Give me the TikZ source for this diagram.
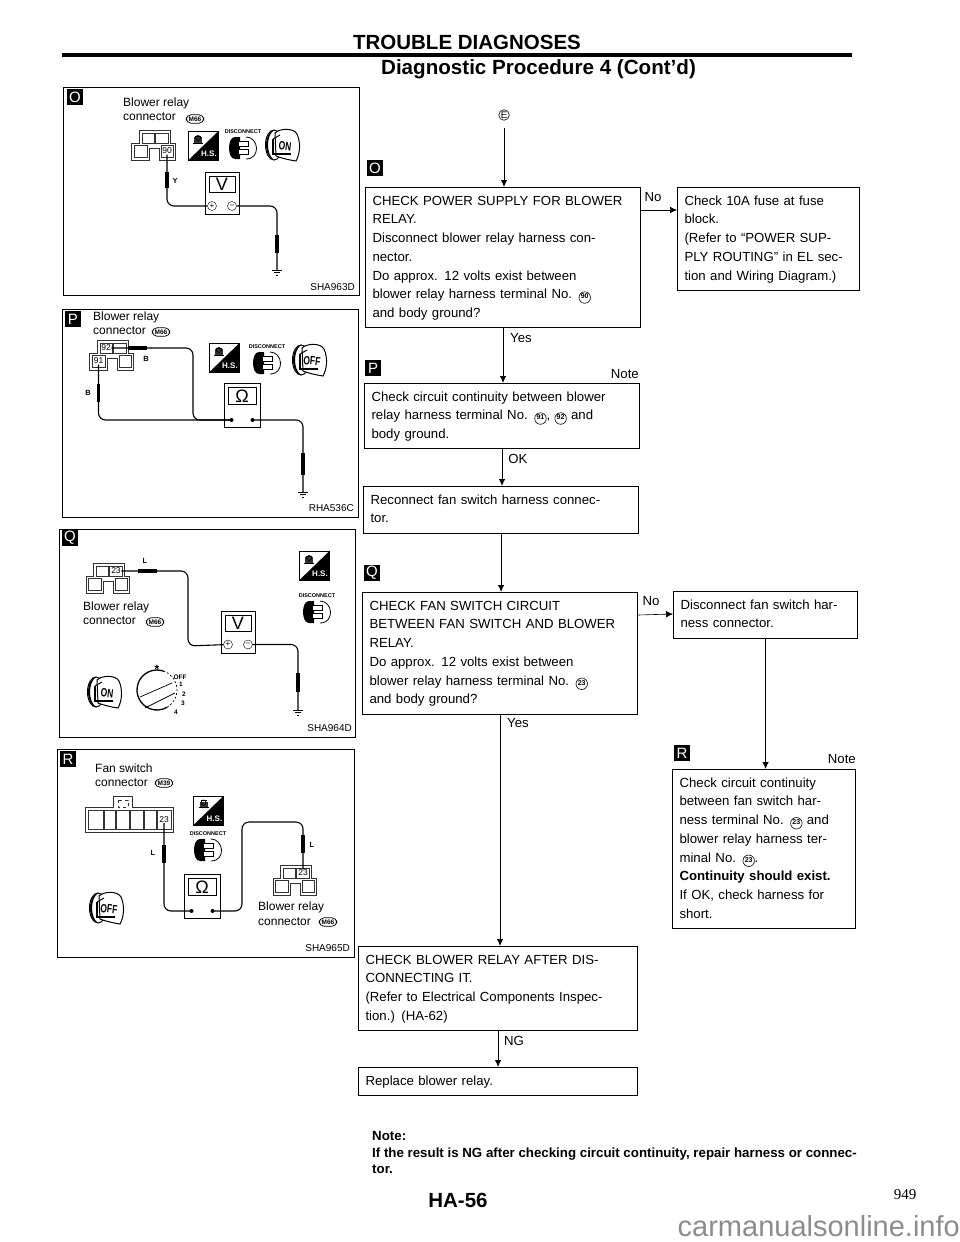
\documentclass[tikz,border=0pt]{standalone}
\usepackage{fontspec}
\usepackage{amssymb}
\usepackage{amsmath}
\setmainfont{Liberation Sans}
\newfontfamily\pagefont{Liberation Serif}
\usetikzlibrary{arrows.meta}

% Circled terminal number inside the text
\newcommand{\termno}[1]{\tikz[baseline=(cn.base)]\node[circle, draw, line width=.6pt, inner sep=0pt,
    inner xsep=0pt, inner ysep=0pt, minimum size=11.5pt, anchor=center, text width=,
    execute at begin node=, execute at end node=, font=\fontsize{7}{7}\selectfont\bfseries] (cn) {#1};}

\tikzset{
    chkbox/.style={draw, line width=1.1pt, anchor=north west, inner xsep=7pt, inner ysep=4.5pt,
        align=left, font=\fontsize{13.2}{18.75}\selectfont, execute at begin node=\strut,
        execute at end node=\strut},
    flowtext/.style={font=\fontsize{13.2}{16}\selectfont, inner sep=0pt},
    panelbox/.style={draw, line width=1pt, anchor=north west},
    badge/.style={fill=black, text=white, minimum size=16pt, inner sep=0pt, font=\fontsize{15}{15}\selectfont},
    paneltext/.style={anchor=west, inner sep=0pt, font=\fontsize{12}{12}\selectfont},
    pillbox/.style={draw, rounded corners=5pt, line width=.7pt, inner xsep=2.5pt, inner ysep=2pt,
        font=\fontsize{6.5}{6.5}\selectfont\bfseries},
    codetext/.style={anchor=east, inner sep=0pt, font=\fontsize{10}{10}\selectfont},
    termbox/.style={inner sep=.5pt, font=\fontsize{8.5}{8.5}\selectfont},
    wirecol/.style={inner sep=0pt, font=\fontsize{7.5}{7.5}\selectfont\bfseries},
    wire/.style={line width=1.1pt, rounded corners=7pt},
    sleeve/.style={line width=3.4pt},
    pics/earth/.style={code={
        \coordinate (top) at (0,0);
        \draw[line width=.8pt] (-5,0) -- (5,0);
        \draw[line width=.8pt] (-3,2.5) -- (3,2.5);
        \draw[line width=.8pt] (-1.2,5) -- (1.2,5);
    }},
    pics/voltbox/.style={code={
        \draw[line width=1pt] (-17,-21) rectangle (17,21);
        \draw[line width=1pt] (-13,-17) rectangle (13,-1);
        \node[inner sep=0pt, font=\fontsize{18}{18}\selectfont] (sign) at (0,-9) {V};
        \node[draw, circle, inner sep=0pt, minimum size=9pt, font=\fontsize{8}{8}\selectfont] (pos) at (-10,12.5) {+};
        \node[draw, circle, inner sep=0pt, minimum size=9pt, font=\fontsize{8}{8}\selectfont] (neg) at (10,12.5) {--};
    }},
    pics/ohmbox/.style={code={
        \draw[line width=1pt] (-18,-22) rectangle (18,22);
        \draw[line width=1pt] (-14,-18) rectangle (14,-1);
        \node[inner sep=0pt, font=\fontsize{18}{18}\selectfont] (sign) at (0,-9) {Ω};
        \fill (-10.5,15) circle (2pt) coordinate (pos);
        \fill (10.5,15) circle (2pt) coordinate (neg);
    }},
    pics/hsicon/.style={code={
        \draw[line width=.8pt] (-15,-14.5) rectangle (15,14.5);
        \fill (-15,14.5) -- (15,-14.5) -- (15,14.5) -- cycle;
        \node[inner sep=0pt, text=white, font=\fontsize{8}{8}\selectfont\bfseries] (hs) at (6,8) {H.S.};
        \fill[black!80] (-9,-9) rectangle (-1,-3);
        \draw[line width=.7pt] (-5,-8) circle (2.5pt);
        \draw[line width=.7pt] (-10,-3) -- (0,-3) (-8,-10) -- (-2,-10);
    }},
    pics/discon/.style={code={
        \node[inner sep=0pt, font=\fontsize{5.5}{5.5}\selectfont\bfseries] (lab) at (0,-16) {DISCONNECT};
        \fill (-3,-11) -- (-8,-11) .. controls (-16,-11) and (-16,11) .. (-8,11) -- (-3,11) -- cycle;
        \draw[line width=.8pt] (3,-11) .. controls (16,-11) and (18,11) .. (3,11);
        \foreach \y in {-4,4}
            \draw[line width=.8pt, fill=white] (-5,\y-2.5) rectangle (5,\y+2.5);
    }},
    pics/keysw/.style={code={
        \draw[line width=1pt, fill=white] (-9,0) ellipse (8.5pt and 15pt);
        \fill (-17,0) .. controls (-17,-9) and (-12,-15) .. (-9,-15)
            .. controls (-13,-12) and (-15,-6) .. (-15,0)
            .. controls (-15,6) and (-13,12) .. (-9,15)
            .. controls (-12,15) and (-17,9) .. (-17,0);
        \draw[line width=1pt, fill=white] (-8,-12) .. controls (-3,-17) and (11,-17) .. (14,-11)
            .. controls (18,-2) and (17,9) .. (13,16)
            .. controls (6,15) and (-2,13) .. (-7,11) -- cycle;
        \draw[line width=1pt] (-10,-6) -- (-3,-10);
        \draw[line width=1.2pt] (-10,-6) -- (-10,9) -- (8,9);
        \node[inner sep=0pt, rotate=-6, xscale=.7, font=\fontsize{12}{12}\selectfont\bfseries] (sw) at (2,1) {#1};
    }},
    pics/relayconn/.style={code={
        \draw[line width=.8pt, black!80] (-14,-15) -- (17,-15) -- (17,-2) -- (22,-2) -- (22,15) -- (6,15)
            -- (6,3) -- (-4,3) -- (-4,15) -- (-21.5,15) -- (-21.5,-2) -- (-14,-2) -- cycle;
        \draw[line width=.6pt, black!80] (-11,-12) rectangle (1,-2);
        \draw[line width=.6pt, black!80] (2,-12) rectangle (15,-2);
        \draw[line width=.6pt, black!80] (-19,0) rectangle (-6,12);
        \draw[line width=.6pt, black!80] (8,0) rectangle (20,12);
    }}
}

\begin{document}
\begin{tikzpicture}[x=1pt, y=-1pt, >={Latex[length=7pt,width=6.5pt]}]
\useasboundingbox (0,0) rectangle (960,1242);

% Page heading
\node[inner sep=0pt, font=\fontsize{20.5}{20.5}\selectfont\bfseries] (headA) at (467,42)
    {TROUBLE DIAGNOSES};
\node[inner sep=0pt, font=\fontsize{20.6}{20.6}\selectfont\bfseries] (headB) at (538.5,69)
    {Diagnostic Procedure 4 (Cont'd)};
\fill (62,53) rectangle (852,57);

% Panels on the left
\node[panelbox, minimum width=296pt, minimum height=208pt] (panelO) at (62.5,87) {};
\node[panelbox, minimum width=296pt, minimum height=208pt] (panelP) at (62,309) {};
\node[panelbox, minimum width=296pt, minimum height=208pt] (panelQ) at (59,529) {};
\node[panelbox, minimum width=297pt, minimum height=208pt] (panelR) at (57,749) {};

\foreach \tag/\x/\y in {O/75/97, P/73/319, Q/70/538, R/68/759}
    \node[badge] (side\tag) at (\x,\y) {\tag};

\foreach \tag/\x/\y/\txt in {O/355/287/SHA963D, P/354/508/RHA536C, Q/352/728/SHA964D, R/350/948/SHA965D}
    \node[codetext] (code\tag) at (\x,\y) {\txt};

% Panel O
\node[paneltext] (txtOa) at (123,103) {Blower relay};
\node[paneltext] (txtOb) at (123,117) {connector};
\node[pillbox] (pillO) at (195,119) {M66};
\pic at (153,145) {relayconn};
\node[termbox] (t90) at (167,151) {90};
\pic at (203,146) {hsicon};
\pic at (243,148) {discon};
\pic at (283,145) {keysw=ON};
\pic (mO) at (222,193.5) {voltbox};
\pic (gndO) at (277,270) {earth};
\node[wirecol] (wireY) at (175,181) {Y};
\draw[wire] (t90) |- (mOpos);
\draw[wire] (mOneg) -| (gndOtop);
\draw[sleeve] (167,172) -- (167,188);
\draw[sleeve] (277,235) -- (277,253);

% Panel P
\node[paneltext] (txtPa) at (93,317) {Blower relay};
\node[paneltext] (txtPb) at (93,331) {connector};
\node[pillbox] (pillP) at (161,332) {M66};
\pic at (111,355) {relayconn};
\node[termbox] (t92) at (106,348) {92};
\node[termbox] (t91) at (98.5,361) {91};
\pic at (224,358) {hsicon};
\pic at (267,363) {discon};
\pic at (310,360) {keysw=OFF};
\pic (mP) at (242,405) {ohmbox};
\pic (gndP) at (303,492) {earth};
\coordinate (bendP) at (193,420);
\node[wirecol] (wireBa) at (146,359) {B};
\node[wirecol] (wireBb) at (88,393) {B};
\draw[wire] (t92.east) -| (bendP) -- (mPpos);
\draw[wire] (t91) |- (mPpos);
\draw[wire] (mPneg) -| (gndPtop);
\draw[sleeve] (128,348) -- (147,348);
\draw[sleeve] (98.5,384) -- (98.5,402);
\draw[sleeve] (303,453) -- (303,475);

% Panel Q
\pic at (107.5,578) {relayconn};
\node[termbox] (t23q) at (116,571) {23};
\node[paneltext] (txtQa) at (83,607) {Blower relay};
\node[paneltext] (txtQb) at (83,621) {connector};
\node[pillbox] (pillQ) at (155,622) {M66};
\pic at (314,566) {hsicon};
\pic at (317,612) {discon};
\pic at (105,692) {keysw=ON};
\pic (mQ) at (238,632) {voltbox};
\pic (gndQ) at (298,710) {earth};
\coordinate (bendQ) at (188,646);
\node[wirecol] (wireLq) at (145,561) {L};
\draw[wire] (t23q.east) -| (bendQ) -- (mQpos);
\draw[wire] (mQneg) -| (gndQtop);
\draw[sleeve] (138,571) -- (157,571);
\draw[sleeve] (298,673) -- (298,692);

% Fan dial in panel Q
\draw[line width=1.3pt] (157,690) ++(70:20pt) arc[start angle=70, end angle=300, radius=20pt];
\draw[line width=.7pt, dash pattern=on 2pt off 2pt] (157,690) ++(-60:20pt) arc[start angle=-60, end angle=70, radius=20pt];
\draw[line width=.7pt] (140,697) -- (172,683);
\draw[line width=.7pt] (145,708) -- (175,693);
\foreach \txt/\x/\y in {OFF/180/677, 1/181/684, 2/184/694, 3/183/703, 4/176/712}
    \node[inner sep=0pt, font=\fontsize{6.5}{6.5}\selectfont\bfseries] (dial\txt) at (\x,\y) {\txt};
\node[inner sep=0pt, font=\fontsize{12}{12}\selectfont\bfseries] (dialmark) at (157,669) {*};

% Panel R
\node[paneltext] (txtRa) at (95,768) {Fan switch};
\node[paneltext] (txtRb) at (95,783) {connector};
\node[pillbox] (pillR) at (164,783) {M39};
\draw[line width=.8pt, black!80] (85,807) -- (113,807) -- (113,796) -- (132,796) -- (132,807) -- (173,807)
    -- (173,832) -- (85,832) -- cycle;
\foreach \x/\w in {88/15, 104/11, 116/13, 130/13, 144/12, 157/14}
    \draw[line width=.6pt, black!80] (\x,810) rectangle (\x+\w,829);
\draw[line width=.6pt, black!80, dashed] (118,800) rectangle (128,807);
\node[termbox] (t23f) at (164,819.5) {23};
\pic at (208.5,810.5) {hsicon};
\pic at (208,850) {discon};
\pic at (107,908) {keysw=OFF};
\pic (mR) at (202,896) {ohmbox};
\coordinate (bendR) at (242,822);
\pic at (294.5,880) {relayconn};
\node[termbox] (t23r) at (303,873) {23};
\node[wirecol] (wireLa) at (153,853) {L};
\node[wirecol] (wireLb) at (312,845) {L};
\node[paneltext] (txtRc) at (258,907) {Blower relay};
\node[paneltext] (txtRd) at (258,922) {connector};
\node[pillbox] (pillRb) at (328,922) {M66};
\draw[wire] (t23f) |- (mRpos);
\draw[wire] (mRneg) -| (bendR) -| (t23r);
\draw[sleeve] (164,845) -- (164,863);
\draw[sleeve] (303,835) -- (303,853);

% Flow chart boxes
\node[chkbox, text width=261pt] (chkpower) at (365,187)
    {CHECK POWER SUPPLY FOR BLOWER\\ RELAY.\\ Disconnect blower relay harness con-\\ nector.\\
     Do approx. 12 volts exist between\\ blower relay harness terminal No. \termno{90}\\ and body ground?};
\node[chkbox, text width=168pt] (chkfuse) at (677,187)
    {Check 10A fuse at fuse\\ block.\\ (Refer to ``POWER SUP-\\ PLY ROUTING'' in EL sec-\\ tion and Wiring Diagram.)};
\node[chkbox, text width=261pt] (chkcont) at (364,383)
    {Check circuit continuity between blower\\ relay harness terminal No. \termno{91}, \termno{92} and\\ body ground.};
\node[chkbox, text width=261pt] (reconn) at (363,486)
    {Reconnect fan switch harness connec-\\ tor.};
\node[chkbox, text width=261pt] (chkfan) at (362,592)
    {CHECK FAN SWITCH CIRCUIT\\ BETWEEN FAN SWITCH AND BLOWER\\ RELAY.\\ Do approx. 12 volts exist between\\
     blower relay harness terminal No. \termno{23}\\ and body ground?};
\node[chkbox, text width=170pt] (disconn) at (673,591)
    {Disconnect fan switch har-\\ ness connector.};
\node[chkbox, text width=169pt] (chkharn) at (672,769)
    {Check circuit continuity\\ between fan switch har-\\ ness terminal No. \termno{23} and\\ blower relay harness ter-\\
     minal No. \termno{23}.\\ \textbf{Continuity should exist.}\\ If OK, check harness for\\ short.};
\node[chkbox, text width=265pt] (chkrelay) at (358,946)
    {CHECK BLOWER RELAY AFTER DIS-\\ CONNECTING IT.\\ (Refer to Electrical Components Inspec-\\ tion.) (HA-62)};
\node[chkbox, text width=265pt] (replace) at (358,1067)
    {Replace blower relay.};

% Letter tags above the boxes
\foreach \tag/\x/\y in {O/375/168, P/373/368, Q/372/573, R/682/753}
    \node[badge] (flow\tag) at (\x,\y) {\tag};
\node[draw, circle, inner sep=.5pt, line width=.6pt, font=\fontsize{9.5}{9.5}\selectfont] (tagE) at (504,115) {E};

% Connectors
\draw[->, line width=1pt, shorten <=7pt] (tagE) -- (tagE |- chkpower.north);
\draw[->, line width=1pt] (chkpower.south) -- (chkpower.south |- chkcont.north);
\draw[->, line width=1pt] (chkcont.south) -- (chkcont.south |- reconn.north);
\draw[->, line width=1pt] (reconn.south) -- (reconn.south |- chkfan.north);
\draw[->, line width=1pt] (chkfan.south) -- (chkfan.south |- chkrelay.north);
\draw[->, line width=1pt] (chkrelay.south) -- (chkrelay.south |- replace.north);
\draw[->, line width=1pt] (disconn.south) -- (disconn.south |- chkharn.north);
\draw[->, line width=.6pt] ([yshift=-23pt]chkpower.north east) -- ([yshift=-23pt]chkfuse.north west);
\draw[->, line width=.6pt] ([yshift=-23pt]chkfan.north east) -- ([yshift=-23pt]disconn.north west);

% Connector labels
\node[flowtext] (noA) at (653,197) {No};
\node[flowtext] (yesA) at (521,338) {Yes};
\node[flowtext, anchor=east] (noteA) at (639,374) {Note};
\node[flowtext] (okA) at (518,459) {OK};
\node[flowtext] (noB) at (651,601) {No};
\node[flowtext] (yesB) at (518,723) {Yes};
\node[flowtext, anchor=east] (noteB) at (856,759) {Note};
\node[flowtext] (ngA) at (514,1041) {NG};

% Note at the foot
\node[anchor=north west, inner sep=0pt, align=left, font=\fontsize{13.3}{16.5}\selectfont\bfseries] (footnote) at (372,1131.5)
    {Note:\\ If the result is NG after checking circuit continuity, repair harness or connec-\\ tor.};
\node[inner sep=0pt, font=\fontsize{20.5}{20.5}\selectfont\bfseries] (pageA) at (458,1200) {HA-56};
\node[inner sep=0pt, font=\pagefont\fontsize{15}{15}\selectfont] (pageB) at (905,1195) {949};
\node[anchor=base east, inner sep=0pt, text=black!45, font=\fontsize{29}{29}\selectfont] (site) at (960,1236) {carmanualsonline.info};

\end{tikzpicture}
\end{document}
